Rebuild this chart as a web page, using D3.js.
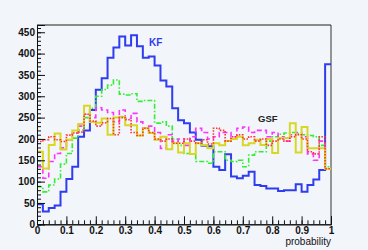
<html>
<head>
  <script src="https://d3js.org/d3.v7.min.js"></script>
  <style>
    body { margin: 0; background: #f2f5f9; }
    text { font-family: "Liberation Sans", Arial, sans-serif; }
  </style>
</head>
<body>
  <svg width="368" height="250" id="chart" style="display: block; background: #f2f5f9"></svg>

  <script>
    // 50 bins between 0 and 1
    const binEdges = d3.range(51).map(i => i / 50);

    const kf = [47, 30, 38, 44, 76, 106, 135, 205, 220, 268,
      315, 342, 390, 414, 440, 419, 443, 417, 390, 393,
      372, 337, 323, 272, 244, 237, 215, 198, 184, 183,
      135, 127, 164, 112, 108, 114, 123, 92, 90, 84,
      84, 78, 80, 80, 94, 76, 92, 105, 127, 375];

    const gsfGreen = [88, 76, 92, 106, 141, 166, 202, 221, 250, 272,
      300, 316, 326, 338, 305, 303, 306, 288, 290, 290,
      237, 240, 230, 200, 185, 166, 165, 147, 147, 143,
      170, 170, 150, 147, 150, 135, 162, 170, 170, 195,
      205, 211, 214, 215, 212, 210, 208, 205, 185, 135];

    const gsfMagenta = [135, 108, 147, 166, 179, 198, 214, 230, 258, 250,
      273, 268, 262, 240, 268, 248, 260, 240, 225, 230,
      215, 178, 210, 195, 200, 185, 205, 225, 215, 200,
      205, 215, 215, 205, 225, 228, 215, 220, 220, 205,
      215, 205, 195, 210, 215, 205, 165, 150, 195, 130];

    const gsfYellow = [170, 131, 186, 213, 175, 198, 220, 235, 278, 240,
      238, 248, 210, 250, 252, 232, 232, 208, 225, 214,
      198, 205, 176, 190, 168, 190, 165, 190, 185, 178,
      190, 185, 195, 200, 205, 185, 190, 198, 186, 200,
      167, 202, 202, 237, 168, 228, 178, 178, 178, 130];

    const gsfRed = [194, 198, 205, 198, 194, 209, 214, 216, 258, 242,
      230, 238, 248, 210, 250, 245, 215, 208, 225, 215,
      200, 195, 200, 190, 190, 200, 195, 190, 198, 188,
      225, 220, 195, 205, 210, 200, 205, 195, 200, 185,
      195, 200, 195, 205, 210, 200, 170, 165, 205, 130];

    const yTicks = [0, 50, 100, 150, 200, 250, 300, 350, 400, 450];
    const xTicks = [0, 0.1, 0.2, 0.3, 0.4, 0.5, 0.6, 0.7, 0.8, 0.9, 1];

    const svg = d3.select("#chart");

    const xScale = d3.scaleLinear().domain([0, 1]).range([37, 331]);
    const yScale = d3.scaleLinear().domain([0, 467]).range([224.3, 25]);

    // frame
    svg.append("line")
      .attr("x1", 37).attr("y1", 25).attr("x2", 331).attr("y2", 25)
      .attr("stroke", "#8a8a8a").attr("stroke-width", 2);
    svg.append("line")
      .attr("x1", 331).attr("y1", 25).attr("x2", 331).attr("y2", 224.3)
      .attr("stroke", "#333").attr("stroke-width", 1);

    // histograms
    const step = d3.line()
      .x(d => xScale(d[0]))
      .y(d => yScale(d[1]))
      .curve(d3.curveStepAfter);

    function drawHist(values, color, width, dash) {
      const pts = values.map((v, i) => [binEdges[i], v]);
      pts.push([binEdges[values.length], values[values.length - 1]]);
      svg.append("path")
        .attr("d", step(pts))
        .attr("fill", "none")
        .attr("stroke", color)
        .attr("stroke-width", width)
        .attr("stroke-dasharray", dash);
    }

    drawHist(kf, "#2f3cf0", 2, null);
    drawHist(gsfGreen, "#33ee33", 1.6, "5,2,1.5,2");
    drawHist(gsfMagenta, "#ff33ff", 1.6, "5,3");
    drawHist(gsfYellow, "#d8d824", 2, null);
    drawHist(gsfRed, "#ff3333", 1.6, "1.5,1.5");

    // y axis
    const leftAxis = d3.axisLeft(yScale).tickValues(yTicks).tickSize(-8).tickPadding(2).tickFormat(d3.format("d"));
    svg.append("g")
      .attr("transform", "translate(37,0)")
      .call(leftAxis);
    svg.append("g")
      .attr("transform", "translate(37,0)")
      .call(d3.axisLeft(yScale).tickValues(d3.range(0, 467, 10)).tickSize(-4).tickFormat(""));

    // x axis
    const bottomAxis = d3.axisBottom(xScale).tickValues(xTicks).tickSize(-8).tickPadding(2.5)
      .tickFormat(d => d === 0 || d === 1 ? d3.format("d")(d) : d3.format(".1f")(d));
    svg.append("g")
      .attr("transform", "translate(0,224.3)")
      .call(bottomAxis);
    svg.append("g")
      .attr("transform", "translate(0,224.3)")
      .call(d3.axisBottom(xScale).tickValues(binEdges).tickSize(-4).tickFormat(""));

    svg.selectAll(".domain").attr("stroke", "#111");
    svg.selectAll(".tick line").attr("stroke", "#111");
    svg.selectAll(".tick text")
      .style("font-family", "Liberation Sans, Arial, sans-serif")
      .style("font-size", "10px")
      .style("font-weight", "bold")
      .attr("fill", "#111");

    // axis title
    svg.append("text")
      .attr("x", 331)
      .attr("y", 245)
      .style("text-anchor", "end")
      .style("font-size", "10px")
      .attr("fill", "#111")
      .text("probability");

    // labels
    svg.append("text")
      .attr("x", 149)
      .attr("y", 46)
      .style("font-size", "10px")
      .style("font-weight", "bold")
      .attr("fill", "#2f3cf0")
      .text("KF");

    svg.append("text")
      .attr("x", 258)
      .attr("y", 122)
      .style("font-size", "9.5px")
      .style("font-weight", "bold")
      .attr("fill", "#222")
      .text("GSF");
  </script>
</body>
</html>
